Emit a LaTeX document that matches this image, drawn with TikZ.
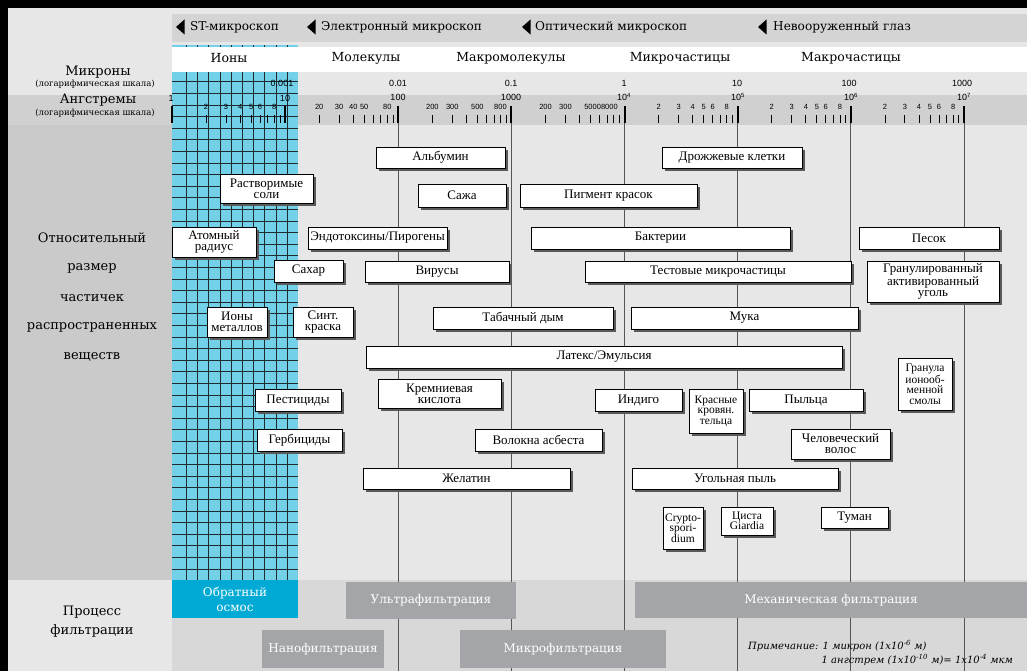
\documentclass[tikz,border=0pt]{standalone}
\usepackage{fontspec}
\setmainfont{Liberation Serif}
\newfontfamily\hdr{DejaVu Serif}
\newfontfamily\tickf{Liberation Sans}
\usetikzlibrary{shadows}
\definecolor{bgl}{HTML}{E7E7E7}
\definecolor{bgband}{HTML}{D4D4D4}
\definecolor{bgang}{HTML}{D0D0D0}
\definecolor{bgleft}{HTML}{CACACA}
\definecolor{bgbot}{HTML}{D8D8D8}
\definecolor{bluec}{HTML}{72D0E8}
\definecolor{osmosc}{HTML}{00AAD4}
\definecolor{fbarc}{HTML}{A4A5A9}
\definecolor{vlinec}{HTML}{555555}
\definecolor{gridc}{HTML}{1E2A30}
\definecolor{shadowc}{HTML}{5A5A5A}
\tikzset{
  wbox/.style={draw=black, line width=0.9pt, fill=white, inner sep=0pt, outer sep=0pt,
    align=center, font=\fontsize{13}{11}\selectfont,
    drop shadow={shadow xshift=3pt, shadow yshift=-3pt, fill=shadowc, opacity=1}},
  smallbox/.style={font=\fontsize{11.5}{10.5}\selectfont},
  fbarst/.style={fill=fbarc, text=white, inner sep=0pt, outer sep=0pt, align=center,
    font=\hdr\fontsize{12}{15}\selectfont},
  hdrlbl/.style={anchor=west, inner sep=0pt, font=\hdr\fontsize{12.1}{14}\selectfont},
  catlbl/.style={inner sep=0pt, font=\hdr\fontsize{12.5}{14}\selectfont},
  leftlbl/.style={inner sep=0pt, align=center, font=\hdr\fontsize{13}{15}\selectfont},
  leftsub/.style={inner sep=0pt, font=\hdr\fontsize{8.5}{10}\selectfont},
  majlbl/.style={inner sep=0pt, font=\tickf\fontsize{9}{10}\selectfont},
  minlbl/.style={inner sep=0pt, font=\tickf\fontsize{7.5}{9}\selectfont},
  notelbl/.style={inner sep=0pt, font=\hdr\itshape\fontsize{10}{12}\selectfont},
}
\newcommand\pbox[7][]{%
  \node[wbox,#1, minimum width={(#5)-(#3)}, minimum height={(#6)-(#4)}] (#2)
    at ({((#3)+(#5))/2},{((#4)+(#6))/2}) {#7};}
\begin{document}
\begin{tikzpicture}[x=1pt,y=-1pt]
\useasboundingbox (0,0) rectangle (1027,671);
% backgrounds
\fill[bgl] (0,0) rectangle (1027,671);
\fill[bgband] (172,14) rectangle (1027,42);
\fill[bgang] (8,95) rectangle (1027,125);
\fill[bgleft] (8,125) rectangle (172,580);
\fill[bgbot] (172,580) rectangle (1027,671);
\fill[black] (0,0) rectangle (1027,8);
\fill[black] (0,0) rectangle (8,671);
% blue column with grid
\fill[bluec] (172,45) rectangle (298,580);
\foreach \k in {0,...,9} \draw[gridc, line width=0.9pt] ({186.5+11.2*\k},45) -- ({186.5+11.2*\k},580);
\foreach \k in {0,...,46} \draw[gridc, line width=0.9pt] (172,{580.7-11.6*\k}) -- (298,{580.7-11.6*\k});
% white category row
\fill[white] (172,47) rectangle (1027,72);
% microscope labels
\node[hdrlbl] (mST) at (190,27) {ST-микроскоп};
\node[hdrlbl] (mEl) at (321,27) {Электронный микроскоп};
\node[hdrlbl] (mOp) at (535,27) {Оптический микроскоп};
\node[hdrlbl] (mEy) at (773,27) {Невооруженный глаз};
\foreach \t in {176,307,522,758} \fill[black] (\t,27) -- (\t+8.5,19.5) -- (\t+8.5,34.5) -- cycle;
% category labels
\node[catlbl] (cIon) at (229,58) {Ионы};
\node[catlbl] (cMol) at (366,58) {Молекулы};
\node[catlbl] (cMac) at (511,58) {Макромолекулы};
\node[catlbl] (cMic) at (680,58) {Микрочастицы};
\node[catlbl] (cMacp) at (851,58) {Макрочастицы};
% left labels
\node[leftlbl] (lMic) at (98,72) {Микроны};
\node[leftsub] (lMicS) at (95,84) {(логарифмическая шкала)};
\node[leftlbl] (lAng) at (98,100) {Ангстремы};
\node[leftsub] (lAngS) at (95,113) {(логарифмическая шкала)};
\node[leftlbl] (l1) at (92,238) {Относительный};
\node[leftlbl] (l2) at (92,268) {размер};
\node[leftlbl] (l3) at (92,298) {частичек};
\node[leftlbl] (l4) at (92,327) {распространенных};
\node[leftlbl] (l5) at (92,357) {веществ};
\node[leftlbl] (p1) at (92,612) {Процесс};
\node[leftlbl] (p2) at (92,631) {фильтрации};
% ticks
\foreach \d in {0,...,7} \draw[black, line width=2pt] ({172+113.15*\d},106) -- ({172+113.15*\d},123);
\foreach \d in {0,...,6} \foreach \m in {2,...,9}
  \draw[black, line width=0.8pt] ({172+113.15*(\d+ln(\m)/ln(10))},115) -- ({172+113.15*(\d+ln(\m)/ln(10))},123);
% vertical decade lines
\foreach \d in {2,...,7} \draw[vlinec, line width=0.9pt] ({172+113.15*\d},123) -- ({172+113.15*\d},671);
% micron labels
\node[majlbl] (u1) at (282,83) {0.001};
\node[majlbl] (u2) at (398,83) {0.01};
\node[majlbl] (u3) at (511,83) {0.1};
\node[majlbl] (u4) at (624,83) {1};
\node[majlbl] (u5) at (737,83) {10};
\node[majlbl] (u6) at (849,83) {100};
\node[majlbl] (u7) at (962,83) {1000};
% angstrom major labels
\node[majlbl] (a0) at (171,98) {1};
\node[majlbl] (a1) at (285,98) {10};
\node[majlbl] (a2) at (398,97) {100};
\node[majlbl] (a3) at (511,97) {1000};
\node[majlbl] (a4) at (624,97) {10\textsuperscript{4}};
\node[majlbl] (a5) at (738,97) {10\textsuperscript{5}};
\node[majlbl] (a6) at (851,97) {10\textsuperscript{6}};
\node[majlbl] (a7) at (964,97) {10\textsuperscript{7}};
% minor labels
\foreach \m/\t [count=\i] in {2/2,3/3,4/4,5/5,6/6,8/8}
  \node[minlbl] (n0\i) at ({172+113.15*(ln(\m)/ln(10))},107) {\t};
\foreach \m/\t [count=\i] in {2/20,3/30,4/40,5/50,8/80}
  \node[minlbl] (n1\i) at ({172+113.15*(1+ln(\m)/ln(10))},107) {\t};
\foreach \m/\t [count=\i] in {2/200,3/300,5/500,8/800}
  \node[minlbl] (n2\i) at ({172+113.15*(2+ln(\m)/ln(10))},107) {\t};
\node[minlbl] (n31) at ({172+113.15*(3+ln(2)/ln(10))},107) {200};
\node[minlbl] (n32) at ({172+113.15*(3+ln(3)/ln(10))},107) {300};
\node[minlbl] (n33) at (601,107) {50008000};
\foreach \d in {4,5,6}
  \foreach \m [count=\i] in {2,3,4,5,6,8}
    \node[minlbl] (n\d\i) at ({172+113.15*(\d+ln(\m)/ln(10))},107) {\m};
% particle boxes
\pbox{albumin}{376}{147}{505}{168}{Альбумин}
\pbox{yeast}{662}{147}{802}{168}{Дрожжевые клетки}
\pbox{salts}{220}{174}{313}{203}{Растворимые\\соли}
\pbox{soot}{418}{184}{506}{207}{Сажа}
\pbox{pigment}{520}{184}{697}{207}{Пигмент красок}
\pbox{atom}{172}{227}{256}{257}{Атомный\\радиус}
\pbox{endo}{308}{227}{447}{249}{Эндотоксины/Пирогены}
\pbox{bact}{531}{227}{790}{249}{Бактерии}
\pbox{sand}{859}{227}{999}{249}{Песок}
\pbox{sugar}{274}{260}{343}{282}{Сахар}
\pbox{virus}{365}{261}{509}{282}{Вирусы}
\pbox{test}{585}{261}{851}{282}{Тестовые микрочастицы}
\pbox{gac}{867}{261}{999}{302}{Гранулированный\\активированный\\уголь}
\pbox{metals}{207}{307}{267}{337}{Ионы\\металлов}
\pbox{dye}{293}{307}{353}{337}{Синт.\\краска}
\pbox{smoke}{433}{307}{613}{329}{Табачный дым}
\pbox{flour}{631}{307}{858}{329}{Мука}
\pbox{latex}{366}{346}{842}{368}{Латекс/Эмульсия}
\pbox[smallbox]{resin}{898}{358}{952}{410}{Гранула\\ионооб-\\менной\\смолы}
\pbox{silica}{378}{379}{501}{408}{Кремниевая\\кислота}
\pbox{pest}{255}{389}{341}{411}{Пестициды}
\pbox{indigo}{595}{389}{682}{411}{Индиго}
\pbox[smallbox]{rbc}{689}{389}{743}{433}{Красные\\кровян.\\тельца}
\pbox{pollen}{749}{389}{863}{411}{Пыльца}
\pbox{herb}{257}{429}{342}{451}{Гербициды}
\pbox{asb}{475}{429}{602}{451}{Волокна асбеста}
\pbox{hair}{791}{429}{890}{459}{Человеческий\\волос}
\pbox{gel}{363}{468}{570}{489}{Желатин}
\pbox{coal}{632}{468}{838}{489}{Угольная пыль}
\pbox[smallbox]{crypto}{663}{507}{703}{549}{Crypto-\\spori-\\dium}
\pbox[smallbox]{giardia}{721}{507}{773}{535}{Циста\\Giardia}
\pbox{fog}{821}{507}{888}{528}{Туман}
% filtration bars
\node[fbarst, fill=osmosc, minimum width=126, minimum height=38] (osmos) at (235,599) {Обратный\\осмос};
\node[fbarst, minimum width=170, minimum height=37] (ultra) at (431,600.5) {Ультрафильтрация};
\node[fbarst, minimum width=392, minimum height=36] (mech) at (831,600) {Механическая фильтрация};
\node[fbarst, minimum width=122, minimum height=38] (nano) at (323,649) {Нанофильтрация};
\node[fbarst, minimum width=206, minimum height=38] (micro) at (563,649) {Микрофильтрация};
% note
\node[notelbl, anchor=west] (note1) at (748,646) {Примечание: 1 микрон (1x10\textsuperscript{-6} м)};
\node[notelbl, anchor=east] (note2) at (1013,660) {1 ангстрем (1x10\textsuperscript{-10} м)= 1x10\textsuperscript{-4} мкм};
\end{tikzpicture}
\end{document}
